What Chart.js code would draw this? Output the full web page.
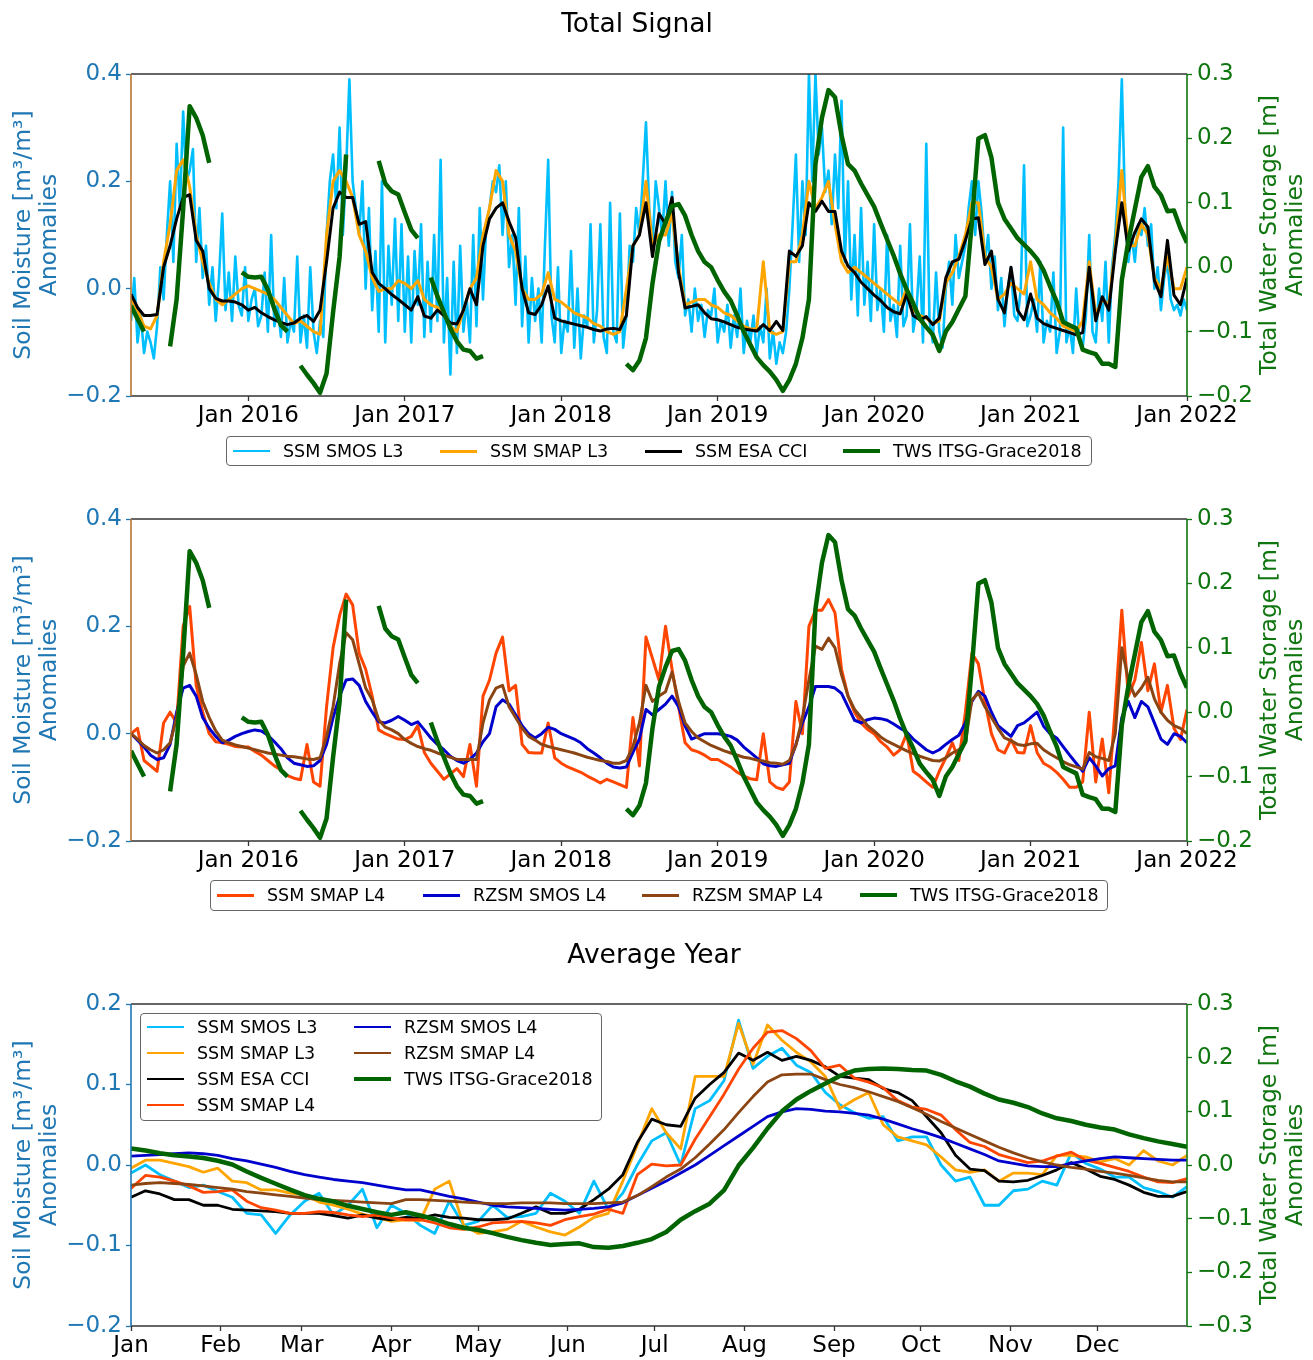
<!DOCTYPE html>
<html><head><meta charset="utf-8">
<script src="https://cdn.jsdelivr.net/npm/chart.js@4/dist/chart.umd.min.js"></script>
<style>
body{margin:0;background:#fff;width:1313px;height:1360px;position:relative;overflow:hidden;font-family:'DejaVu Sans',sans-serif;}
canvas{position:absolute;left:0;}
.ttl{position:absolute;font-size:26.5px;color:#000;transform:translate(-50%,-50%);white-space:nowrap;}
.ylab{position:absolute;font-size:23.5px;white-space:nowrap;transform:translate(-50%,-50%) rotate(-90deg);}
.leg{position:absolute;border:1.3px solid #666;border-radius:4px;background:rgba(255,255,255,0.85);box-sizing:border-box;}
.li{position:absolute;height:24px;display:flex;align-items:center;font-size:17.5px;color:#000;white-space:nowrap;}
.li span.s{display:inline-block;width:37px;margin-right:13px;}
</style></head>
<body>
<canvas id="c1" width="1313" height="440" style="top:0"></canvas>
<canvas id="c2" width="1313" height="440" style="top:445px"></canvas>
<canvas id="c3" width="1313" height="430" style="top:930px"></canvas>
<div id="overlay"></div>
<script>
// ---------- axis ticks / categories ----------
const yearTicks = [2016, 2017, 2018, 2019, 2020, 2021, 2022];
const yearTickLabels = ['Jan 2016', 'Jan 2017', 'Jan 2018', 'Jan 2019', 'Jan 2020', 'Jan 2021', 'Jan 2022'];
const monthTicks = [0, 31, 59, 90, 120, 151, 181, 212, 243, 273, 304, 334];
const monthLabels = ['Jan', 'Feb', 'Mar', 'Apr', 'May', 'Jun', 'Jul', 'Aug', 'Sep', 'Oct', 'Nov', 'Dec'];
const smTicksTS = [-0.2, 0.0, 0.2, 0.4];
const twsTicksTS = [-0.2, -0.1, 0.0, 0.1, 0.2, 0.3];
const smTicksAY = [-0.2, -0.1, 0.0, 0.1, 0.2];
const twsTicksAY = [-0.3, -0.2, -0.1, 0.0, 0.1, 0.2, 0.3];

// time grid of the total-signal panels (decimal years): start and sampling step
const tsStart = 2015.25;
const tsStep = 1 / 24;       // half-monthly samples
const smosStep = 1 / 48;     // SMOS L3 sampled finer
const dayStep = 5;           // average-year sampling in days

// ---------- Total signal series (half-monthly from Apr 2015) ----------
const twsGrace = [
-0.06,-0.08,-0.10,null,null,null,-0.123,-0.05,0.09,0.25,
0.232,0.205,0.162,null,null,null,null,-0.008,-0.015,-0.016,
-0.015,-0.035,-0.065,-0.09,-0.10,null,-0.153,-0.167,-0.18,-0.195,
-0.165,-0.07,0.016,0.175,null,null,null,null,0.165,0.13,
0.118,0.113,0.085,0.058,0.045,null,-0.016,-0.045,-0.07,-0.095,
-0.115,-0.128,-0.13,-0.142,-0.138,null,null,null,null,null,
null,null,null,null,null,null,null,null,null,null,
null,null,null,null,null,null,-0.15,-0.16,-0.145,-0.11,
-0.025,0.04,0.07,0.095,0.098,0.08,0.05,0.025,0.008,0.0,
-0.02,-0.038,-0.052,-0.075,-0.1,-0.12,-0.14,-0.152,-0.162,-0.175,
-0.192,-0.175,-0.15,-0.11,-0.05,0.16,0.232,0.275,0.264,0.205,
0.16,0.15,0.13,0.112,0.094,0.068,0.043,0.018,-0.01,-0.035,
-0.056,-0.08,-0.093,-0.105,-0.13,-0.1,-0.085,-0.065,-0.045,0.07,
0.2,0.205,0.17,0.1,0.075,0.06,0.045,0.035,0.025,0.013,
-0.005,-0.03,-0.053,-0.085,-0.09,-0.095,-0.128,-0.132,-0.135,-0.15,
-0.15,-0.155,-0.02,0.04,0.09,0.14,0.157,0.125,0.112,0.087,
0.088,0.06,0.038];

const ssmEsaCci = [
-0.01,-0.035,-0.05,-0.05,-0.048,0.04,0.08,0.13,0.17,0.175,
0.09,0.07,0.0,-0.018,-0.023,-0.023,-0.025,-0.03,-0.04,-0.035,
-0.045,-0.052,-0.058,-0.063,-0.067,-0.064,-0.055,-0.05,-0.061,-0.04,
0.05,0.15,0.18,0.17,0.17,0.12,0.125,0.03,0.01,0.0,
-0.011,-0.02,-0.03,-0.04,-0.015,-0.051,-0.055,-0.04,-0.05,-0.064,
-0.066,-0.04,0.0,-0.03,0.08,0.13,0.15,0.16,0.125,0.095,
0.0,-0.045,-0.048,-0.03,0.005,-0.055,-0.06,-0.063,-0.066,-0.069,
-0.072,-0.076,-0.079,-0.075,-0.074,-0.076,-0.05,0.08,0.1,0.16,
0.06,0.14,0.12,0.17,0.03,-0.036,-0.033,-0.03,-0.045,-0.056,
-0.058,-0.062,-0.067,-0.072,-0.075,-0.077,-0.079,-0.067,-0.078,-0.061,
-0.078,0.07,0.06,0.08,0.16,0.144,0.163,0.144,0.144,0.07,
0.042,0.03,0.012,0.0,-0.012,-0.022,-0.035,-0.043,-0.047,-0.01,
-0.05,-0.058,-0.052,-0.067,-0.055,0.02,0.05,0.055,0.09,0.13,
0.132,0.045,0.07,-0.02,-0.045,0.04,-0.04,-0.058,-0.01,-0.055,
-0.065,-0.07,-0.074,-0.078,-0.082,-0.086,-0.082,0.04,-0.06,-0.015,
-0.04,0.07,0.16,0.07,0.105,0.13,0.115,0.015,-0.015,0.09,
-0.012,-0.03,0.02];

const ssmSmapL3 = [
-0.02,-0.04,-0.07,-0.075,-0.05,0.05,0.12,0.22,0.24,0.19,
0.1,0.05,0.01,-0.02,-0.03,-0.02,-0.01,0.0,0.005,0.0,
-0.005,-0.01,-0.02,-0.035,-0.05,-0.065,-0.06,-0.07,-0.08,-0.085,
0.1,0.2,0.22,0.2,0.17,0.1,0.07,0.02,-0.005,0.0,
0.0,0.015,0.01,0.0,0.015,-0.02,-0.03,-0.035,-0.05,-0.07,
-0.08,-0.04,0.0,0.02,0.1,0.15,0.22,0.2,0.1,0.07,
0.0,-0.02,-0.02,-0.01,0.03,-0.02,-0.025,-0.035,-0.045,-0.05,
-0.055,-0.065,-0.07,-0.08,-0.085,-0.08,0.0,0.08,0.1,0.2,
0.08,0.1,0.1,0.14,0.04,-0.03,-0.025,-0.02,-0.02,-0.03,
-0.035,-0.045,-0.05,-0.06,-0.07,-0.075,-0.075,0.05,-0.08,-0.085,
-0.08,0.05,0.05,0.1,0.2,0.15,0.17,0.2,0.12,0.05,
0.03,0.04,0.03,0.02,0.01,0.0,-0.01,-0.02,-0.03,0.0,
-0.04,-0.05,-0.055,-0.065,-0.06,0.01,0.03,0.06,0.1,0.16,
0.16,0.06,0.04,-0.02,-0.01,0.01,0.0,-0.01,0.05,-0.02,
-0.03,-0.045,-0.055,-0.07,-0.075,-0.08,-0.06,0.05,-0.05,-0.02,
-0.03,0.08,0.22,0.08,0.08,0.12,0.1,0.02,0.0,0.06,
0.0,0.0,0.04];

const ssmSmosL3 = [
-0.06,0.02,-0.1,-0.05,-0.12,-0.08,-0.1,-0.13,-0.07,0.04,
-0.02,0.1,0.2,0.05,0.27,0.15,0.33,0.2,0.22,0.26,
0.05,0.15,0.02,0.08,-0.03,0.04,-0.06,0.02,0.14,-0.04,
0.03,-0.06,0.06,-0.03,-0.05,0.04,-0.06,-0.02,0.0,-0.07,
-0.05,0.03,-0.08,0.1,-0.07,-0.03,-0.09,0.02,-0.1,-0.06,
-0.08,0.06,-0.1,-0.05,-0.11,0.04,-0.08,-0.12,-0.06,-0.09,
0.1,0.2,0.25,0.15,0.3,0.1,0.22,0.39,0.2,0.15,
0.1,0.2,0.0,0.15,-0.04,0.07,-0.08,0.2,-0.1,0.08,
-0.03,0.13,-0.06,0.12,-0.08,0.06,-0.1,0.07,-0.03,0.12,
-0.09,0.05,-0.08,0.1,-0.06,0.24,-0.1,0.02,-0.16,0.05,
-0.12,0.08,-0.08,-0.02,-0.1,0.1,-0.07,0.15,-0.02,0.12,
0.15,0.2,0.18,0.23,0.1,0.2,0.04,0.1,-0.03,0.15,
-0.07,0.06,-0.1,0.02,-0.06,0.0,-0.1,0.08,0.24,-0.05,
-0.1,0.04,-0.12,-0.06,-0.08,0.07,-0.11,0.0,-0.13,-0.05,
-0.07,0.12,-0.1,-0.04,0.12,-0.09,-0.12,0.16,-0.08,-0.1,
0.14,-0.11,-0.05,0.08,0.05,0.15,0.1,0.2,0.31,0.15,
0.08,0.2,0.15,0.1,0.2,0.08,0.18,0.05,0.02,0.1,
-0.05,-0.02,-0.08,0.0,-0.06,-0.03,-0.09,-0.04,-0.05,0.0,
-0.1,-0.06,-0.08,-0.03,-0.11,-0.05,-0.09,0.0,-0.12,-0.06,
-0.1,-0.05,-0.12,-0.07,-0.1,0.0,-0.13,-0.08,-0.14,-0.1,
-0.12,-0.08,0.0,0.12,0.25,0.05,0.2,0.1,0.4,0.2,
0.4,0.25,0.3,0.18,0.22,0.12,0.25,0.15,0.35,0.05,
0.2,-0.02,0.1,-0.05,0.15,-0.03,0.05,-0.06,0.12,-0.04,
0.0,-0.08,0.1,-0.06,-0.03,-0.09,0.08,-0.07,-0.05,0.12,
-0.08,-0.04,0.06,-0.1,0.27,-0.06,-0.1,0.03,-0.08,-0.11,
0.0,0.05,-0.03,0.1,0.02,0.05,0.08,0.15,0.2,0.1,
0.2,0.14,0.05,0.1,0.0,0.06,-0.04,0.02,-0.07,0.0,
0.04,-0.05,-0.06,0.0,0.23,-0.07,-0.05,-0.02,-0.08,0.05,
-0.1,-0.06,-0.08,0.03,-0.12,-0.08,0.3,-0.1,-0.07,-0.12,
0.0,-0.1,-0.11,-0.05,0.1,-0.08,-0.1,0.0,-0.06,0.05,
-0.1,0.04,0.1,0.2,0.39,0.15,0.05,0.1,0.05,0.12,
0.1,0.15,0.08,0.12,0.0,0.04,-0.04,0.02,0.05,-0.02,
-0.04,-0.03,-0.05,-0.02,-0.04];

const ssmSmapL4 = [
0.0,0.01,-0.05,-0.06,-0.07,0.02,0.04,0.02,0.2,0.237,
0.09,0.04,0.0,-0.015,-0.017,-0.02,-0.024,-0.025,-0.025,-0.033,
-0.04,-0.05,-0.06,-0.067,-0.078,-0.083,-0.086,-0.02,-0.09,-0.098,
0.05,0.16,0.22,0.26,0.24,0.15,0.12,0.07,0.007,0.0,
-0.005,-0.01,-0.011,-0.005,0.015,-0.035,-0.055,-0.07,-0.085,-0.075,
-0.065,-0.08,-0.02,-0.098,0.07,0.1,0.15,0.18,0.08,0.09,
-0.02,-0.035,-0.036,-0.036,0.02,-0.045,-0.055,-0.062,-0.067,-0.072,
-0.079,-0.085,-0.092,-0.085,-0.09,-0.095,-0.1,0.03,-0.06,0.18,
0.14,0.1,0.2,0.12,0.05,-0.017,-0.03,-0.034,-0.04,-0.048,
-0.048,-0.055,-0.062,-0.072,-0.079,-0.084,-0.086,0.0,-0.09,-0.1,
-0.104,-0.09,0.06,0.0,0.2,0.23,0.23,0.25,0.225,0.12,
0.07,0.04,0.02,0.008,0.0,-0.015,-0.025,-0.04,-0.03,0.0,
-0.07,-0.079,-0.09,-0.1,-0.07,-0.045,-0.017,-0.05,0.04,0.15,
0.13,0.06,0.0,-0.03,-0.036,-0.011,-0.035,-0.036,0.015,-0.035,
-0.055,-0.062,-0.072,-0.085,-0.1,-0.1,-0.09,0.04,-0.09,-0.01,
-0.11,0.05,0.23,0.07,0.1,0.17,0.08,0.13,0.04,0.09,
0.01,-0.011,0.045];

const rzsmSmosL4 = [
0.0,-0.012,-0.025,-0.04,-0.048,-0.045,-0.02,0.04,0.085,0.09,
0.07,0.03,0.01,-0.005,-0.017,-0.012,-0.005,0.0,0.004,0.007,
0.005,-0.003,-0.015,-0.028,-0.045,-0.055,-0.058,-0.061,-0.06,-0.05,
-0.02,0.03,0.07,0.1,0.102,0.09,0.06,0.04,0.022,0.02,
0.025,0.032,0.025,0.017,0.022,0.007,-0.008,-0.02,-0.03,-0.042,
-0.05,-0.055,-0.048,-0.036,-0.015,0.0,0.05,0.063,0.055,0.035,
0.015,0.0,-0.008,0.0,0.012,0.008,0.0,-0.005,-0.01,-0.017,
-0.028,-0.036,-0.045,-0.055,-0.062,-0.064,-0.062,-0.035,-0.01,0.045,
0.035,0.045,0.055,0.07,0.05,0.014,-0.01,-0.005,0.0,0.0,
0.0,-0.002,-0.005,-0.012,-0.025,-0.035,-0.045,-0.056,-0.06,-0.061,
-0.058,-0.055,-0.02,0.02,0.05,0.088,0.088,0.088,0.085,0.075,
0.05,0.025,0.02,0.026,0.029,0.028,0.025,0.018,0.01,0.003,
-0.01,-0.02,-0.03,-0.036,-0.03,-0.02,-0.011,-0.003,0.02,0.06,
0.079,0.07,0.04,0.015,0.005,-0.005,0.015,0.02,0.03,0.04,
0.014,0.0,-0.008,-0.024,-0.04,-0.055,-0.07,-0.045,-0.06,-0.079,
-0.065,-0.06,0.03,0.06,0.03,0.06,0.05,0.02,-0.01,-0.02,
0.0,-0.005,-0.017];

const rzsmSmapL4 = [
0.0,-0.01,-0.022,-0.03,-0.036,-0.03,-0.017,0.03,0.126,0.15,
0.11,0.06,0.03,0.005,-0.012,-0.017,-0.021,-0.024,-0.027,-0.03,
-0.033,-0.036,-0.038,-0.04,-0.042,-0.043,-0.045,-0.047,-0.048,-0.045,
-0.005,0.05,0.13,0.188,0.175,0.13,0.085,0.063,0.026,0.012,
0.007,0.0,-0.011,-0.018,-0.024,-0.028,-0.031,-0.036,-0.04,-0.044,
-0.048,-0.048,-0.048,-0.048,0.02,0.063,0.085,0.09,0.05,0.03,
0.01,-0.005,-0.012,-0.02,-0.024,-0.027,-0.03,-0.033,-0.036,-0.04,
-0.044,-0.047,-0.05,-0.052,-0.055,-0.055,-0.05,-0.024,0.02,0.09,
0.06,0.07,0.078,0.115,0.06,0.02,0.004,-0.008,-0.015,-0.022,
-0.027,-0.032,-0.036,-0.04,-0.044,-0.046,-0.049,-0.051,-0.054,-0.055,
-0.057,-0.05,-0.022,0.03,0.1,0.163,0.157,0.178,0.16,0.11,
0.07,0.045,0.03,0.015,0.005,-0.006,-0.014,-0.02,-0.026,-0.032,
-0.037,-0.042,-0.046,-0.05,-0.051,-0.045,-0.036,-0.03,-0.017,0.063,
0.076,0.05,0.03,0.01,-0.008,-0.013,-0.02,-0.022,-0.019,-0.018,
-0.03,-0.038,-0.045,-0.052,-0.058,-0.062,-0.066,-0.035,-0.043,-0.046,
-0.05,0.0,0.16,0.1,0.07,0.085,0.105,0.065,0.04,0.025,
0.015,0.01,0.0];

// ---------- Average year series (every 5 days from 1 Jan) ----------
const avgSmosL3 = [
-0.01,0.0,-0.012,-0.02,-0.028,-0.025,-0.033,-0.04,-0.06,-0.062,
-0.085,-0.062,-0.045,-0.035,-0.062,-0.05,-0.03,-0.078,-0.05,-0.06,
-0.075,-0.085,-0.045,-0.075,-0.07,-0.05,-0.065,-0.064,-0.06,-0.035,
-0.045,-0.06,-0.02,-0.055,-0.035,0.0,0.03,0.04,0.0,0.07,
0.08,0.105,0.18,0.12,0.135,0.145,0.124,0.115,0.09,0.075,
0.065,0.058,0.06,0.03,0.035,0.035,0.0,-0.02,-0.015,-0.05,
-0.05,-0.032,-0.03,-0.02,-0.025,0.015,0.002,-0.005,-0.015,-0.015,
-0.028,-0.033,-0.04,-0.027];
const avgSmapL3 = [
-0.004,0.006,0.006,0.002,-0.002,-0.009,-0.004,-0.02,-0.022,-0.031,
-0.031,-0.035,-0.037,-0.046,-0.05,-0.055,-0.061,-0.065,-0.07,-0.068,
-0.069,-0.03,-0.02,-0.075,-0.085,-0.083,-0.08,-0.07,-0.077,-0.083,
-0.087,-0.077,-0.065,-0.06,-0.02,0.025,0.07,0.04,0.02,0.11,
0.11,0.11,0.176,0.125,0.174,0.155,0.14,0.128,0.11,0.07,
0.081,0.09,0.05,0.035,0.03,0.025,0.01,-0.006,-0.009,-0.006,
-0.02,-0.01,-0.01,-0.012,0.012,0.012,0.01,0.004,0.008,0.0,
0.018,0.005,0.0,0.012];
const avgEsaCci = [
-0.04,-0.032,-0.036,-0.043,-0.043,-0.05,-0.05,-0.055,-0.056,-0.057,
-0.058,-0.06,-0.06,-0.06,-0.063,-0.066,-0.062,-0.066,-0.068,-0.065,
-0.066,-0.062,-0.065,-0.066,-0.068,-0.068,-0.067,-0.06,-0.052,-0.06,
-0.06,-0.055,-0.043,-0.03,-0.012,0.028,0.057,0.05,0.048,0.083,
0.1,0.115,0.139,0.13,0.14,0.13,0.135,0.13,0.122,0.11,
0.108,0.106,0.095,0.09,0.08,0.06,0.04,0.012,-0.005,-0.007,
-0.02,-0.021,-0.019,-0.013,-0.006,0.003,-0.005,-0.014,-0.018,-0.025,
-0.034,-0.039,-0.039,-0.033];
const avgSmapL4 = [
-0.029,-0.013,-0.015,-0.02,-0.026,-0.034,-0.033,-0.031,-0.045,-0.053,
-0.056,-0.06,-0.06,-0.058,-0.059,-0.062,-0.064,-0.062,-0.066,-0.068,
-0.068,-0.072,-0.078,-0.08,-0.077,-0.072,-0.071,-0.07,-0.072,-0.075,
-0.068,-0.064,-0.061,-0.055,-0.06,-0.012,0.001,-0.001,0.0,0.032,
0.06,0.088,0.119,0.145,0.165,0.167,0.157,0.142,0.12,0.124,
0.108,0.103,0.096,0.08,0.072,0.069,0.062,0.044,0.028,0.023,
0.013,0.008,0.003,0.005,0.011,0.016,0.006,0.002,-0.003,-0.008,
-0.015,-0.021,-0.022,-0.017];
const avgRzSmosL4 = [
0.011,0.012,0.013,0.014,0.015,0.014,0.012,0.008,0.005,0.001,
-0.003,-0.008,-0.012,-0.015,-0.018,-0.02,-0.022,-0.025,-0.028,-0.031,
-0.031,-0.035,-0.039,-0.042,-0.046,-0.05,-0.052,-0.053,-0.054,-0.055,
-0.056,-0.055,-0.054,-0.052,-0.047,-0.038,-0.029,-0.02,-0.01,0.0,
0.012,0.024,0.036,0.048,0.06,0.066,0.07,0.069,0.067,0.066,
0.064,0.062,0.057,0.051,0.045,0.04,0.034,0.027,0.02,0.013,
0.005,0.002,-0.001,-0.002,-0.002,0.002,0.005,0.008,0.01,0.009,
0.008,0.007,0.006,0.006];
const avgRzSmapL4 = [
-0.025,-0.023,-0.022,-0.023,-0.024,-0.026,-0.028,-0.03,-0.033,-0.035,
-0.037,-0.039,-0.041,-0.043,-0.044,-0.045,-0.046,-0.047,-0.048,-0.043,
-0.043,-0.044,-0.045,-0.046,-0.047,-0.048,-0.048,-0.047,-0.047,-0.047,
-0.048,-0.048,-0.048,-0.047,-0.046,-0.038,-0.027,-0.015,-0.005,0.009,
0.026,0.044,0.065,0.085,0.103,0.112,0.113,0.113,0.106,0.1,
0.096,0.091,0.085,0.079,0.071,0.063,0.054,0.046,0.038,0.03,
0.022,0.015,0.009,0.004,0.0,-0.003,-0.005,-0.008,-0.01,-0.013,
-0.016,-0.019,-0.021,-0.021];
const avgTws = [
0.031,0.027,0.022,0.018,0.016,0.013,0.008,0.001,-0.012,-0.024,
-0.035,-0.046,-0.056,-0.063,-0.068,-0.076,-0.082,-0.088,-0.093,-0.088,
-0.094,-0.101,-0.11,-0.117,-0.121,-0.127,-0.134,-0.14,-0.145,-0.149,
-0.147,-0.146,-0.153,-0.154,-0.151,-0.145,-0.138,-0.125,-0.102,-0.086,
-0.072,-0.047,-0.001,0.032,0.068,0.1,0.122,0.138,0.152,0.166,
0.176,0.179,0.18,0.179,0.177,0.176,0.168,0.156,0.146,0.133,
0.122,0.116,0.108,0.096,0.087,0.082,0.075,0.07,0.066,0.057,
0.05,0.044,0.039,0.034];

// ---------- styling ----------
const C = {smos:'#00BFFF', smapL3:'#FFA500', esa:'#000000', smapL4:'#FF4500',
           rzSmos:'#0000CD', rzSmap:'#8B4513', tws:'#006400'};
const SMCOL = '#1f77b4', TWSCOL = '#0f750f', FONT = "'DejaVu Sans', sans-serif";

function pts(arr, start, step){ return arr.map((v,i)=>({x:start+i*step, y:v})); }
function fmt(v){ const r=Math.round(v*10)/10; if (Math.abs(r)<1e-9) return '0.0'; return (r<0?'\u2212':'')+Math.abs(r).toFixed(1); }
function ds(label, data, color, width, order, axis){
  return {label, data, borderColor:color, backgroundColor:color, borderWidth:width, pointRadius:0,
          tension:0, spanGaps:false, order, yAxisID:axis||'y', borderJoinStyle:'round', borderCapStyle:'butt'};
}
const framePlugin = {id:'frame', afterDatasetsDraw(chart, args, o){
  const {ctx, chartArea:a} = chart; ctx.save(); ctx.lineWidth = 1.6;
  const L=(x1,y1,x2,y2,c)=>{ctx.strokeStyle=c;ctx.beginPath();ctx.moveTo(x1,y1);ctx.lineTo(x2,y2);ctx.stroke();};
  L(a.left,a.top,a.right,a.top,'#333'); L(a.left,a.bottom,a.right,a.bottom,'#333');
  L(a.left,a.top,a.left,a.bottom,o.left); L(a.right,a.top,a.right,a.bottom,o.right);
  ctx.restore();
}};

function makeChart(id, H, xCfg, yCfg, y2Cfg, datasets, leftSpine){
  const xh = H - 74 - 322;
  return new Chart(document.getElementById(id), {
    type:'line',
    data:{datasets},
    options:{
      responsive:false, animation:false, events:[], devicePixelRatio:1,
      layout:{padding:{top:74,left:0,right:0,bottom:0}},
      plugins:{legend:{display:false}, tooltip:{enabled:false}, title:{display:false},
               frame:{left:leftSpine, right:TWSCOL}},
      scales:{
        x:{type:'linear', min:xCfg.min, max:xCfg.max, position:'bottom',
           afterBuildTicks:s=>{s.ticks = xCfg.ticks.map(v=>({value:v}));},
           ticks:{autoSkip:false, maxRotation:0, color:'#000', padding:4,
                  font:{family:FONT, size:23, lineHeight:1},
                  callback:(v)=>{const i=xCfg.ticks.indexOf(v); return i>=0?xCfg.labels[i]:'';}},
           grid:{display:true, drawOnChartArea:false, drawTicks:true, tickLength:5, tickColor:'#333', tickWidth:1.3},
           border:{display:false},
           afterFit:s=>{s.height = xh;}},
        y:{type:'linear', position:'left', min:yCfg.min, max:yCfg.max,
           afterBuildTicks:s=>{s.ticks = yCfg.ticks.map(v=>({value:v}));},
           ticks:{color:SMCOL, padding:4, font:{family:FONT, size:23}, callback:v=>fmt(v)},
           grid:{display:true, drawOnChartArea:false, drawTicks:true, tickLength:5, tickColor:SMCOL, tickWidth:1.3},
           border:{display:false},
           afterFit:s=>{s.width = 131;}},
        y2:{type:'linear', position:'right', min:y2Cfg.min, max:y2Cfg.max,
           afterBuildTicks:s=>{s.ticks = y2Cfg.ticks.map(v=>({value:v}));},
           ticks:{color:TWSCOL, padding:5, font:{family:FONT, size:23}, callback:v=>fmt(v)},
           grid:{display:true, drawOnChartArea:false, drawTicks:true, tickLength:5, tickColor:TWSCOL, tickWidth:1.3},
           border:{display:false},
           afterFit:s=>{s.width = 126;}}
      }
    },
    plugins:[framePlugin]
  });
}

const tsX = {min:2015.25, max:2022.0, ticks:yearTicks, labels:yearTickLabels};
const tsY = {min:-0.2, max:0.4, ticks:smTicksTS};
const tsY2 = {min:-0.2, max:0.3, ticks:twsTicksTS};
const LEFT_TS = '#b8742f';

makeChart('c1', 440, tsX, tsY, tsY2, [
  ds('SSM SMOS L3', pts(ssmSmosL3, tsStart, smosStep), C.smos, 2.6, 4),
  ds('SSM SMAP L3', pts(ssmSmapL3, tsStart, tsStep), C.smapL3, 3, 3),
  ds('SSM ESA CCI', pts(ssmEsaCci, tsStart, tsStep), C.esa, 3, 2),
  ds('TWS ITSG-Grace2018', pts(twsGrace, tsStart, tsStep), C.tws, 4.5, 1, 'y2')
], LEFT_TS);

makeChart('c2', 440, tsX, tsY, tsY2, [
  ds('SSM SMAP L4', pts(ssmSmapL4, tsStart, tsStep), C.smapL4, 3, 4),
  ds('RZSM SMOS L4', pts(rzsmSmosL4, tsStart, tsStep), C.rzSmos, 3, 3),
  ds('RZSM SMAP L4', pts(rzsmSmapL4, tsStart, tsStep), C.rzSmap, 3, 2),
  ds('TWS ITSG-Grace2018', pts(twsGrace, tsStart, tsStep), C.tws, 4.5, 1, 'y2')
], LEFT_TS);

makeChart('c3', 430, {min:0, max:365, ticks:monthTicks, labels:monthLabels},
  {min:-0.2, max:0.2, ticks:smTicksAY}, {min:-0.3, max:0.3, ticks:twsTicksAY}, [
  ds('SSM SMOS L3', pts(avgSmosL3, 0, dayStep), C.smos, 2.8, 7),
  ds('SSM SMAP L3', pts(avgSmapL3, 0, dayStep), C.smapL3, 2.8, 6),
  ds('SSM ESA CCI', pts(avgEsaCci, 0, dayStep), C.esa, 2.8, 5),
  ds('SSM SMAP L4', pts(avgSmapL4, 0, dayStep), C.smapL4, 2.8, 4),
  ds('RZSM SMOS L4', pts(avgRzSmosL4, 0, dayStep), C.rzSmos, 2.8, 3),
  ds('RZSM SMAP L4', pts(avgRzSmapL4, 0, dayStep), C.rzSmap, 2.8, 2),
  ds('TWS ITSG-Grace2018', pts(avgTws, 0, dayStep), C.tws, 4.5, 1, 'y2')
], SMCOL);

// ---------- text overlays ----------
const ov = document.getElementById('overlay');
function addDiv(cls, text, style){ const d=document.createElement('div'); d.className=cls; d.textContent=text; Object.assign(d.style, style); ov.appendChild(d); return d; }
addDiv('ttl', 'Total Signal', {left:'637px', top:'22px'});
addDiv('ttl', 'Average Year', {left:'654px', top:'953px'});
[235, 680, 1165].forEach(cy=>{
  addDiv('ylab', 'Soil Moisture [m\u00b3/m\u00b3]', {left:'22px', top:cy+'px', color:SMCOL});
  addDiv('ylab', 'Anomalies', {left:'48px', top:cy+'px', color:SMCOL});
  addDiv('ylab', 'Total Water Storage [m]', {left:'1268px', top:cy+'px', color:TWSCOL});
  addDiv('ylab', 'Anomalies', {left:'1294px', top:cy+'px', color:TWSCOL});
});

function legend(box, items){
  const b = document.createElement('div'); b.className='leg';
  Object.assign(b.style, {left:box[0]+'px', top:box[1]+'px', width:box[2]+'px', height:box[3]+'px'});
  items.forEach(it=>{
    const d = document.createElement('div'); d.className='li';
    d.style.left = it.x+'px'; d.style.top = (it.y-12)+'px';
    const s = document.createElement('span'); s.className='s';
    s.style.height = it.w+'px'; s.style.background = it.c;
    d.appendChild(s); d.appendChild(document.createTextNode(it.t));
    b.appendChild(d);
  });
  ov.appendChild(b);
}
legend([226,436,866,30], [
  {t:'SSM SMOS L3', c:C.smos, w:2.6, x:6, y:14},
  {t:'SSM SMAP L3', c:C.smapL3, w:3, x:213, y:14},
  {t:'SSM ESA CCI', c:C.esa, w:3, x:418, y:14},
  {t:'TWS ITSG-Grace2018', c:C.tws, w:4.5, x:616, y:14}
]);
legend([210,880,898,31], [
  {t:'SSM SMAP L4', c:C.smapL4, w:3, x:6, y:14},
  {t:'RZSM SMOS L4', c:C.rzSmos, w:3, x:212, y:14},
  {t:'RZSM SMAP L4', c:C.rzSmap, w:3, x:431, y:14},
  {t:'TWS ITSG-Grace2018', c:C.tws, w:4.5, x:649, y:14}
]);
legend([140,1013,462,108], [
  {t:'SSM SMOS L3', c:C.smos, w:2.8, x:6, y:13},
  {t:'SSM SMAP L3', c:C.smapL3, w:2.8, x:6, y:39},
  {t:'SSM ESA CCI', c:C.esa, w:2.8, x:6, y:65},
  {t:'SSM SMAP L4', c:C.smapL4, w:2.8, x:6, y:91},
  {t:'RZSM SMOS L4', c:C.rzSmos, w:2.8, x:213, y:13},
  {t:'RZSM SMAP L4', c:C.rzSmap, w:2.8, x:213, y:39},
  {t:'TWS ITSG-Grace2018', c:C.tws, w:4.5, x:213, y:65}
]);
</script>
</body></html>
